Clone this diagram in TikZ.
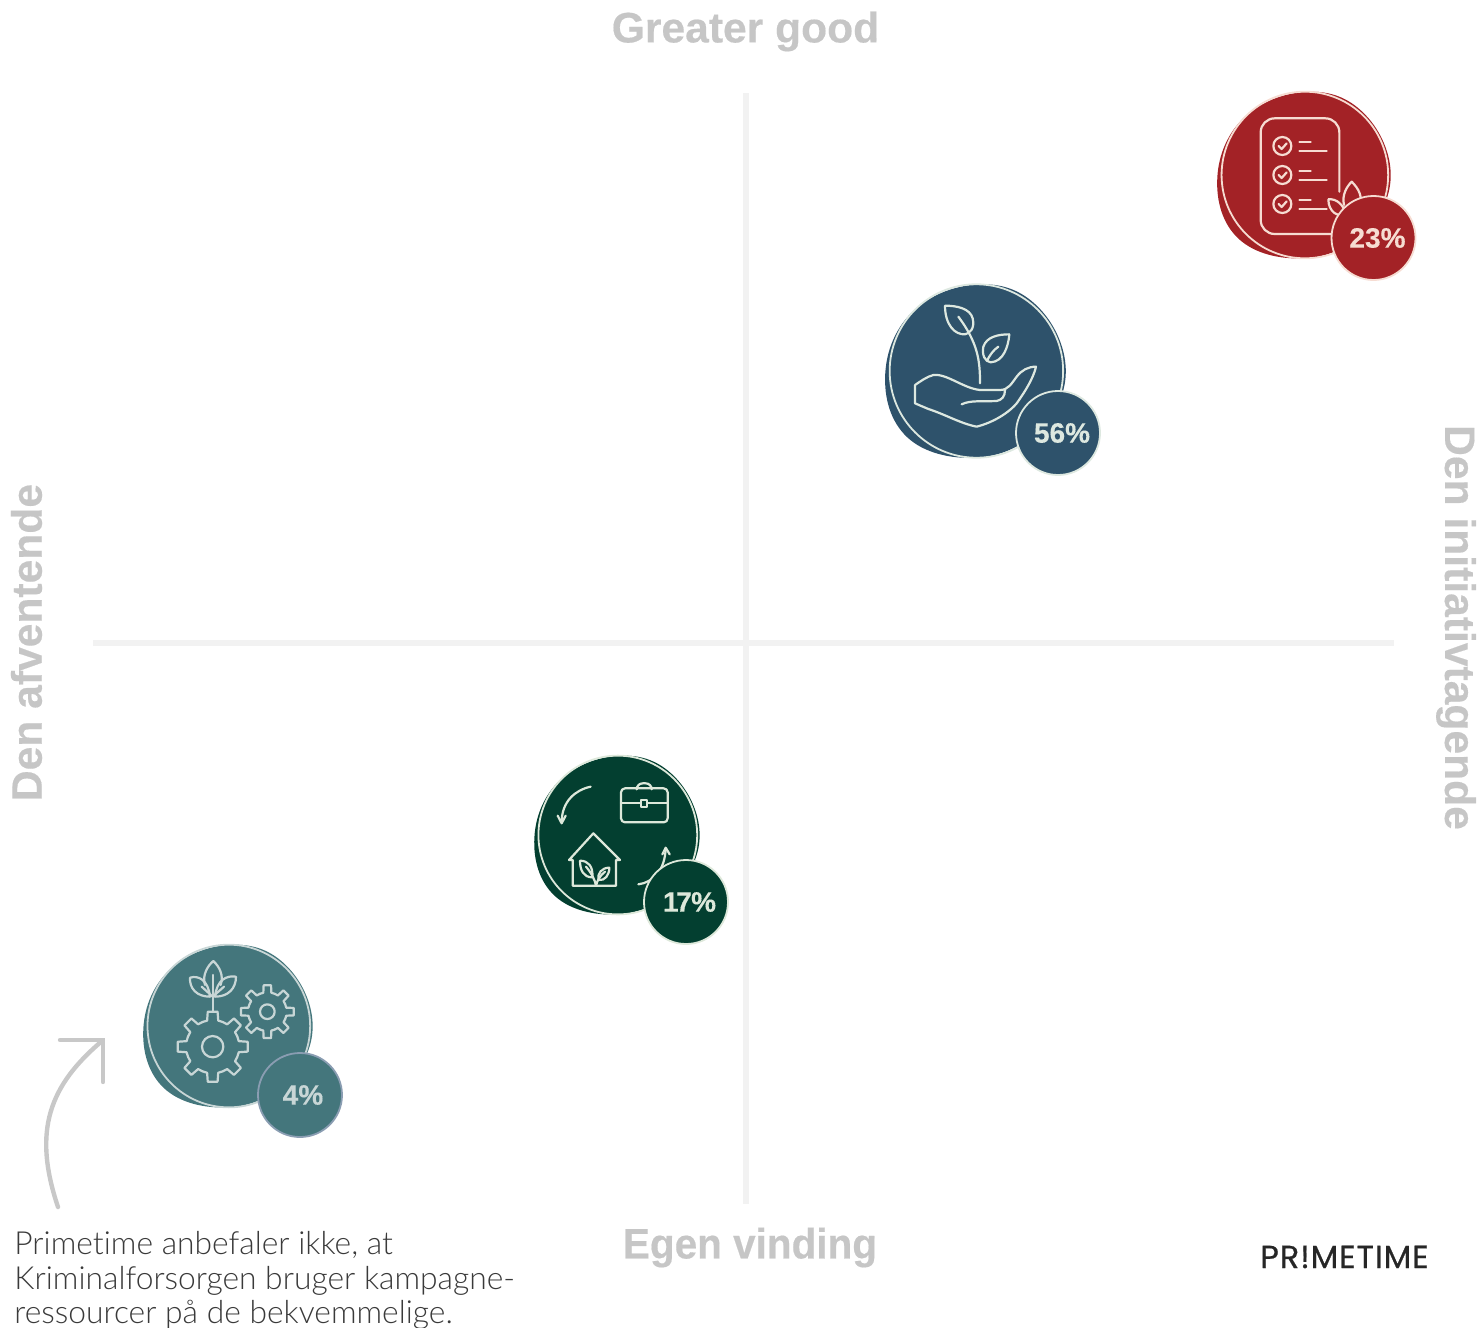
\documentclass[tikz,border=0pt]{standalone}
\usepackage{fontspec}
\setmainfont{Liberation Sans}
\newfontfamily\headfont{Liberation Sans}[BoldFeatures={FakeBold=0.35}]
\newfontfamily\pctfont{Liberation Sans Bold}[FakeBold=0.25]
\newfontfamily\bodyfont{Lato Light}[Ligatures=NoCommon]
\newfontfamily\logofont{Poppins}[LetterSpace=3,FakeBold=0.6]
\definecolor{axisgrey}{HTML}{F2F2F2}
\definecolor{headgrey}{HTML}{C6C6C6}
\definecolor{arrowgrey}{HTML}{C8C8C8}
\definecolor{bodytext}{HTML}{3A3A3A}
\definecolor{logotext}{HTML}{262626}
\definecolor{redfill}{HTML}{A32226}
\definecolor{redline}{HTML}{F6DCD2}
\definecolor{bluefill}{HTML}{2E526B}
\definecolor{blueline}{HTML}{DDE8E0}
\definecolor{greenfill}{HTML}{033F30}
\definecolor{greenline}{HTML}{DDE8DA}
\definecolor{tealfill}{HTML}{44767C}
\definecolor{tealline}{HTML}{C8D6D6}
\definecolor{tealring}{HTML}{8A9DB2}
\tikzset{
  heading/.style={font=\headfont\bfseries\fontsize{21.3}{24}\selectfont,text=headgrey,inner sep=0pt},
  axisline/.style={draw=axisgrey,line width=3pt},
  note/.style={draw=arrowgrey,line width=2.2pt,line cap=round,line join=miter},
  icon/.style={line width=1.1pt,line cap=round,line join=round,fill=none},
  pct/.style={circle,line width=0.9pt,minimum size=42pt,inner sep=0pt,font=\pctfont\fontsize{14}{16}\selectfont},
}
% blob: cx, cy, r, fill, line
\newcommand{\blob}[5]{%
  \begin{scope}[shift={(#1,#2)},scale=#3/100]
    \fill[#4] plot[smooth cycle,tension=0.68] coordinates {(102,2) (73,-70) (8,-98) (-69,-69) (-102,3) (-77,75) (0,98) (70,68)};
    \draw[#5,line width=0.9pt] (1,0) circle [radius=98];
  \end{scope}}
% gear: cx, cy, root, outer, colour
\newcommand{\gear}[5]{%
  \begin{scope}[shift={(#1,#2)}]
    \foreach \a in {0,45,...,315}{
      \draw[icon,#5,rotate=\a] (-22.5:#3) -- (-12:#3) -- (-8:#4) -- (8:#4) -- (12:#3) -- (22.5:#3);
    }
  \end{scope}}
\begin{document}
\begin{tikzpicture}[x=0.5pt,y=-0.5pt]
\useasboundingbox (0,0) rectangle (1481,1327);
% axes
\coordinate (vtop) at (746,93);
\coordinate (vbot) at (746,1204);
\coordinate (hleft) at (93,642.5);
\coordinate (hright) at (1394,642.5);
\draw[axisline] (hleft) -- (hright);
\draw[axisline] (vtop) -- (vbot);
% axis labels
\node[heading] (top) at (745.5,31.5) {Greater good};
\node[heading] (bottom) at (750,1247.5) {\scalebox{0.95}[1]{Egen vinding}};
\node[heading,rotate=90] (left) at (26.5,642.5) {Den afventende};
\node[heading,rotate=-90] (right) at (1456,627.5) {Den initiativtagende};

% RED
\blob{1304}{175}{85}{redfill}{redline}
\begin{scope}[shift={(1200,80)},scale=1/3]
  \draw[icon,redline,rounded corners=7pt] (418,335) -- (418,115) -- (182,115) -- (182,462) -- (400,462);
  \foreach \y in {198,285,372}{
    \draw[icon,redline] (247,\y) circle [radius=27];
    \draw[icon,redline] (236,\y) -- (245,{\y+9}) -- (260,{\y-8});
    \draw[icon,redline] (298,{\y-11}) -- (332,{\y-11});
    \draw[icon,redline] (298,{\y+14}) -- (380,{\y+14});
  }
  \draw[icon,redline] (432,375) .. controls (425,345) and (440,320) .. (455,305) .. controls (475,325) and (490,350) .. (478,380);
  \draw[icon,redline] (385,358) .. controls (410,355) and (430,375) .. (437,400) .. controls (415,415) and (385,395) .. (385,358);
\end{scope}
\node[pct,fill=redfill,draw=redline,text=redline] (redpct) at (1373.5,238) {\hspace{4pt}\raisebox{-0.5pt}{23\%}};

% BLUE
\blob{975.5}{371}{88.5}{bluefill}{blueline}
\begin{scope}[shift={(870,275)},scale=1/3]
  \draw[icon,blueline] (330,325) .. controls (330,260) and (325,205) .. (265,125);
  \draw[icon,blueline] (225,92) .. controls (260,92) and (300,100) .. (308,130) .. controls (315,160) and (300,175) .. (285,178) .. controls (255,180) and (225,150) .. (225,92);
  \draw[icon,blueline] (418,178) .. controls (385,178) and (350,185) .. (340,215) .. controls (335,240) and (345,260) .. (362,262) .. controls (400,260) and (415,215) .. (418,178);
  \draw[icon,blueline] (352,255) .. controls (360,240) and (370,225) .. (385,215);
  \draw[icon,blueline] (135,330) -- (135,385) -- (175,402) .. controls (230,420) and (270,445) .. (320,455) .. controls (360,445) and (410,420) .. (440,385) .. controls (465,350) and (490,310) .. (498,275) .. controls (475,275) and (455,285) .. (440,305) .. controls (425,325) and (415,345) .. (390,345) -- (330,345) .. controls (280,340) and (230,295) .. (190,300) .. controls (170,305) and (150,320) .. (135,330);
  \draw[icon,blueline] (275,388) .. controls (300,375) and (340,380) .. (380,378) .. controls (395,375) and (405,365) .. (405,345);
\end{scope}
\node[pct,fill=bluefill,draw=blueline,text=blueline] (bluepct) at (1058,433) {\hspace{4pt}\raisebox{-0.5pt}{56\%}};

% GREEN
\blob{617}{835}{81}{greenfill}{greenline}
\begin{scope}[shift={(520,745)},scale=1/3]
  \draw[icon,greenline] (212,125) .. controls (165,135) and (125,170) .. (125,232);
  \draw[icon,greenline] (113,212) -- (125,235) -- (137,212);
  \draw[icon,greenline,rounded corners=2pt] (303,130) rectangle (443,232);
  \draw[icon,greenline] (303,175) -- (362,175) (382,175) -- (443,175);
  \draw[icon,greenline] (362,165) rectangle (382,185);
  \draw[icon,greenline,rounded corners=3pt] (350,130) -- (350,115) -- (395,115) -- (395,130);
  \draw[icon,greenline] (147,345) -- (220,265) -- (300,345) -- (288,345) -- (288,422) -- (158,422) -- (158,345) -- cycle;
  \draw[icon,greenline] (228,422) .. controls (225,405) and (215,385) .. (198,365);
  \draw[icon,greenline] (228,422) .. controls (232,405) and (240,392) .. (255,380);
  \draw[icon,greenline] (180,347) .. controls (205,347) and (220,365) .. (217,397) .. controls (190,397) and (180,375) .. (180,347);
  \draw[icon,greenline] (268,368) .. controls (245,368) and (232,385) .. (235,405) .. controls (255,408) and (268,390) .. (268,368);
  \draw[icon,greenline] (355,418) .. controls (400,412) and (435,375) .. (437,310);
  \draw[icon,greenline] (427,328) -- (437,308) -- (449,328);
\end{scope}
\node[pct,fill=greenfill,draw=greenline,text=greenline] (greenpct) at (686,902) {\hspace{3.5pt}\raisebox{-0.5pt}{1\kern-1.2pt 7\kern-0.3pt\%}};

% TEAL
\blob{228}{1026}{83}{tealfill}{tealline}
\begin{scope}[shift={(130,935)},scale=1/3]
  \gear{248}{335}{80}{106}{tealline}
  \draw[icon,tealline] (248,335) circle [radius=32];
  \gear{412}{230}{58}{80}{tealline}
  \draw[icon,tealline] (412,230) circle [radius=22];
  \draw[icon,tealline] (248,120) -- (248,228);
  \draw[icon,tealline] (215,155) -- (248,185) -- (282,155);
  \draw[icon,tealline] (225,150) .. controls (215,120) and (235,90) .. (250,78) .. controls (268,95) and (282,120) .. (272,150);
  \draw[icon,tealline] (180,128) .. controls (205,120) and (235,135) .. (240,185) .. controls (200,185) and (178,160) .. (180,128);
  \draw[icon,tealline] (318,125) .. controls (290,120) and (260,135) .. (255,185) .. controls (295,185) and (318,160) .. (318,125);
\end{scope}
\node[pct,fill=tealfill,draw=tealring,text=tealline] (tealpct) at (300,1095) {\hspace{3pt}\raisebox{-0.5pt}{4\%}};

% arrow
\coordinate (arrowstart) at (58,1207);
\coordinate (arrowend) at (102,1041);
\coordinate (headleft) at (60,1040);
\coordinate (headcorner) at (103,1040);
\coordinate (headbottom) at (103,1082);
\draw[note] (arrowstart) .. controls (32,1130) and (50,1085) .. (arrowend);
\draw[note] (headleft) -- (headcorner) -- (headbottom);

% note text
\node[anchor=north west,inner sep=0pt,align=left,text=bodytext,font=\bodyfont\fontsize{15.9}{17.25}\selectfont] (notetext) at (14,1231) {Primetime anbefaler ikke, at\\Kriminalforsorgen bruger kampagne-\\ressourcer på de bekvemmelige.};
% logo
\node[inner sep=0pt,text=logotext,font=\logofont\fontsize{16}{18}\selectfont] (logo) at (1344.5,1257) {PR!METIME};
\end{tikzpicture}
\end{document}
